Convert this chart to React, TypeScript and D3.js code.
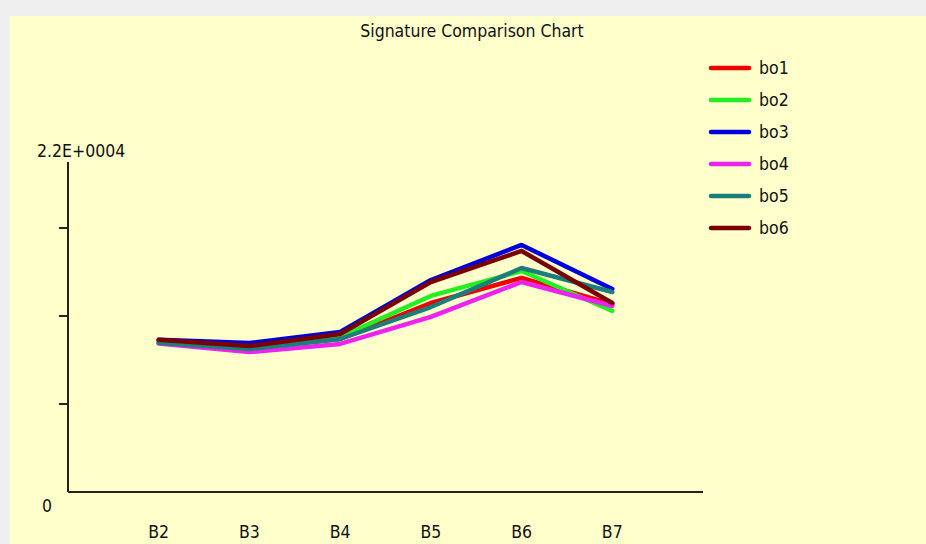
import { useEffect, useRef } from "react";
import * as d3 from "d3";

const categories = ["B2", "B3", "B4", "B5", "B6", "B7"];
const seriesNames = ["bo1", "bo2", "bo3", "bo4", "bo5", "bo6"];
const seriesColors = ["#ee0000", "#22ee22", "#0000dd", "#ee22ee", "#1a7f7a", "#7a0000"];

const bo1 = [10050, 9600, 10200, 12600, 14270, 12530];
const bo2 = [10000, 9550, 10330, 13070, 14730, 12070];
const bo3 = [10150, 9930, 10670, 14130, 16470, 13530];
const bo4 = [9900, 9330, 9870, 11670, 14000, 12400];
const bo5 = [9950, 9530, 10200, 12330, 14930, 13330];
const bo6 = [10150, 9730, 10530, 14000, 16070, 12600];
const seriesValues = [bo1, bo2, bo3, bo4, bo5, bo6];

const yMax = 22000;
const yTicks = [5867, 11733, 17600];

const W = 926;
const H = 544;
const font = "'Liberation Sans Narrow', 'Arial Narrow', 'DejaVu Sans Condensed', sans-serif";
const fs = 17.5;

export default function App() {
  const svgRef = useRef<SVGSVGElement>(null);

  useEffect(() => {
    document.body.style.margin = "0";
    if (!svgRef.current) return;
    const svg = d3.select(svgRef.current);
    svg.selectAll("*").remove();

    // panel background
    svg.append("rect").attr("width", W).attr("height", H).attr("fill", "#efefef");
    svg.append("rect").attr("x", 10).attr("y", 16).attr("width", W - 10).attr("height", H - 16).attr("fill", "#ffffcc");

    const left = 68;
    const right = 703;
    const top = 162;
    const bottom = 492;

    // points sit at 1..6 of 7 equal divisions
    const x = d3.scalePoint<string>()
      .domain(["", ...categories, " "])
      .range([left, right]);
    const y = d3.scaleLinear().domain([0, yMax]).range([bottom, top]);

    svg.append("text")
      .attr("x", 472).attr("y", 37)
      .attr("text-anchor", "middle")
      .attr("font-family", font).attr("font-size", fs).attr("fill", "#111")
      .text("Signature Comparison Chart");

    // axes
    const axis = svg.append("g").attr("stroke", "#222").attr("stroke-width", 2);
    axis.append("line").attr("x1", left).attr("x2", left).attr("y1", y(yMax)).attr("y2", y(0));
    axis.append("line").attr("x1", left).attr("x2", right).attr("y1", y(0)).attr("y2", y(0));
    axis.selectAll(".tick")
      .data(yTicks)
      .join("line")
      .attr("x1", left - 9).attr("x2", left)
      .attr("y1", (d) => y(d)).attr("y2", (d) => y(d));

    svg.append("text")
      .attr("x", 37).attr("y", y(yMax) - 5)
      .attr("font-family", font).attr("font-size", fs).attr("fill", "#111")
      .text("2.2E+0004");
    svg.append("text")
      .attr("x", 47).attr("y", y(0) + 20)
      .attr("text-anchor", "middle")
      .attr("font-family", font).attr("font-size", fs).attr("fill", "#111")
      .text("0");

    svg.append("g")
      .selectAll("text")
      .data(categories)
      .join("text")
      .attr("x", (d) => x(d)!)
      .attr("y", 538)
      .attr("text-anchor", "middle")
      .attr("font-family", font).attr("font-size", fs).attr("fill", "#111")
      .text((d) => d);

    // series lines
    const line = d3.line<number>()
      .x((_, i) => x(categories[i])!)
      .y((d) => y(d));

    svg.append("g")
      .selectAll("path")
      .data(seriesValues)
      .join("path")
      .attr("d", (d) => line(d))
      .attr("fill", "none")
      .attr("stroke", (_, i) => seriesColors[i])
      .attr("stroke-width", 4.5)
      .attr("stroke-linejoin", "round")
      .attr("stroke-linecap", "round");

    // legend
    const legend = svg.append("g")
      .selectAll("g")
      .data(seriesNames)
      .join("g")
      .attr("transform", (_, i) => `translate(711,${68 + i * 32})`);
    legend.append("line")
      .attr("x1", 0).attr("x2", 38)
      .attr("stroke", (_, i) => seriesColors[i])
      .attr("stroke-width", 4.5)
      .attr("stroke-linecap", "round");
    legend.append("text")
      .attr("x", 48).attr("y", 6)
      .attr("font-family", font).attr("font-size", fs).attr("fill", "#111")
      .text((d) => d);
  }, []);

  return <svg ref={svgRef} width={W} height={H} style={{ display: "block" }} />;
}
